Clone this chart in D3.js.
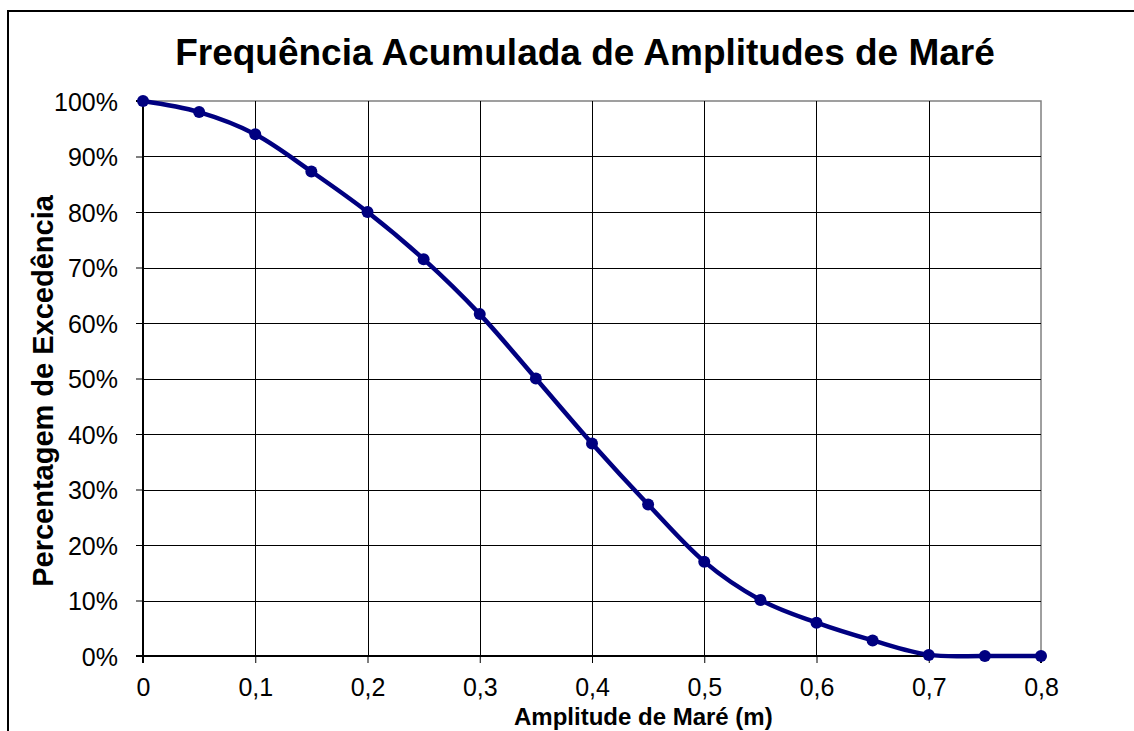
<!DOCTYPE html>
<html>
<head>
<meta charset="utf-8">
<script src="https://cdn.jsdelivr.net/npm/d3@7"></script>
<style>
  body { margin: 0; background: #fff; }
  text { font-family: "Liberation Sans", Arial, sans-serif; fill: #000; }
</style>
</head>
<body>
<svg id="chart"></svg>
<script>
WIDTH = 1134;
HEIGHT = 731;
MARGIN = { top: 101, right: 93, bottom: 75, left: 143 };

// amplitude (m) vs. exceedance percentage
amplitudes = [0, 0.05, 0.1, 0.15, 0.2, 0.25, 0.3, 0.35, 0.4, 0.45, 0.5, 0.55, 0.6, 0.65, 0.7, 0.75, 0.8];
exceedance = [100, 98, 94, 87.3, 80, 71.5, 61.6, 50, 38.3, 27.3, 17, 10.1, 6, 2.8, 0.2, 0, 0];
xTicks = [0, 0.1, 0.2, 0.3, 0.4, 0.5, 0.6, 0.7, 0.8];
yTicks = [0, 10, 20, 30, 40, 50, 60, 70, 80, 90, 100];

function buildChart() {
    var svg = d3.select("#chart").attr("width", WIDTH).attr("height", HEIGHT);
    var width = WIDTH - MARGIN.left - MARGIN.right;
    var height = HEIGHT - MARGIN.top - MARGIN.bottom;

    // outer frame (top + left only visible)
    svg.append("path")
        .attr("d", "M8,731 L8,11 L1134,11")
        .attr("fill", "none")
        .attr("stroke", "#000")
        .attr("stroke-width", 2);

    var g = svg.append("g")
        .attr("transform", "translate(" + MARGIN.left + "," + MARGIN.top + ")");

    var x = d3.scaleLinear().domain([0, 0.8]).range([0, width]);
    var y = d3.scaleLinear().domain([0, 100]).range([height, 0]);

    // plot area border (grey top/right)
    g.append("rect")
        .attr("width", width).attr("height", height)
        .attr("fill", "none").attr("stroke", "#808080").attr("stroke-width", 1.5);

    // grid
    g.selectAll(".hgrid").data(yTicks.slice(1, -1))
        .enter().append("line")
        .attr("x1", 0).attr("x2", width)
        .attr("y1", function(d) { return Math.round(y(d)) + 0.5; })
        .attr("y2", function(d) { return Math.round(y(d)) + 0.5; })
        .attr("stroke", "#000").attr("stroke-width", 1);
    g.selectAll(".vgrid").data(xTicks.slice(1, -1))
        .enter().append("line")
        .attr("y1", 0).attr("y2", height)
        .attr("x1", function(d) { return Math.round(x(d)) + 0.5; })
        .attr("x2", function(d) { return Math.round(x(d)) + 0.5; })
        .attr("stroke", "#000").attr("stroke-width", 1);

    var xAxis = g.append("g")
        .attr("transform", "translate(0," + height + ")")
        .call(d3.axisBottom(x).tickValues(xTicks).tickSize(7).tickPadding(15)
            .tickFormat(function(d) { return d === 0 ? "0" : d3.format(".1f")(d).replace(".", ","); }));
    var yAxis = g.append("g")
        .call(d3.axisLeft(y).tickValues(yTicks).tickSize(7).tickPadding(18)
            .tickFormat(function(d) { return d + "%"; }));
    [xAxis, yAxis].forEach(function(a) {
        a.select(".domain").attr("stroke", "#000").attr("stroke-width", 2);
        a.selectAll(".tick line").attr("stroke", "#000").attr("stroke-width", 1);
        a.selectAll(".tick text").attr("font-size", "25px")
            .attr("font-family", "Liberation Sans, Arial, sans-serif").attr("fill", "#000");
    });
    yAxis.select(".domain").attr("d", "M-7,0H0V" + height + "H-7");
    xAxis.select(".domain").attr("d", "M0,7V0H" + width + "V7");
    xAxis.selectAll(".tick text").attr("dy", "0.72em");
    yAxis.selectAll(".tick text").attr("dy", "0.36em");

    var line = d3.line()
        .x(function(d, i) { return x(amplitudes[i]); })
        .y(function(d) { return y(d); })
        .curve(d3.curveCardinal.tension(0));

    g.append("path")
        .datum(exceedance)
        .attr("d", line)
        .attr("fill", "none")
        .attr("stroke", "#000080")
        .attr("stroke-width", 4.5);

    g.selectAll(".dot").data(exceedance)
        .enter().append("circle")
        .attr("cx", function(d, i) { return x(amplitudes[i]); })
        .attr("cy", function(d) { return y(d); })
        .attr("r", 6)
        .attr("fill", "#000080");

    svg.append("text")
        .attr("x", 585).attr("y", 65)
        .attr("text-anchor", "middle")
        .attr("font-size", "37px").attr("font-weight", "bold")
        .text("Frequência Acumulada de Amplitudes de Maré");

    svg.append("text")
        .attr("x", 514).attr("y", 725)
        .attr("text-anchor", "start")
        .attr("font-size", "24px").attr("font-weight", "bold")
        .text("Amplitude de Maré (m)");

    svg.append("text")
        .attr("transform", "translate(53,391) rotate(-90)")
        .attr("text-anchor", "middle")
        .attr("font-size", "29px").attr("font-weight", "bold")
        .text("Percentagem de Excedência");
}

buildChart();
</script>
</body>
</html>
